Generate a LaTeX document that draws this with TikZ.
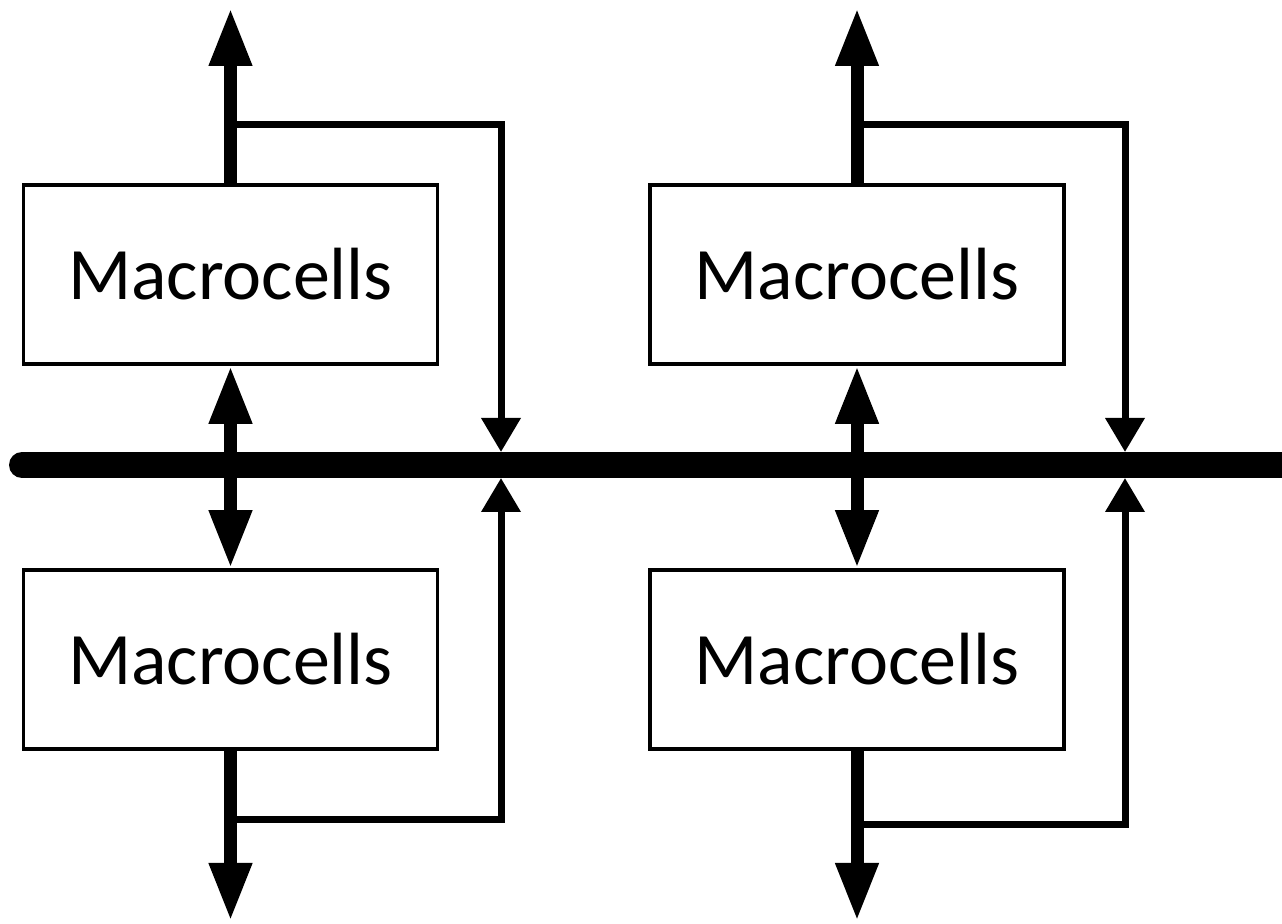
\documentclass[tikz,border=0pt]{standalone}
\usepackage{fontspec}
\setmainfont{Carlito}
\usetikzlibrary{arrows.meta}
\begin{document}
\begin{tikzpicture}[x=0.5pt,y=-0.5pt,
  cellbox/.style={draw=black,line width=1.8pt,fill=white,inner sep=0pt,
    minimum width=207pt,minimum height=89.5pt,
    font=\fontsize{37}{40}\selectfont},
  busline/.style={line width=13pt,line cap=round},
  outline/.style={line width=6.5pt,-{Triangle[length=29pt,width=20pt]}},
  duplex/.style={line width=6.5pt,{Triangle[length=29pt,width=20pt]}-{Triangle[length=29pt,width=20pt]}},
  feedback/.style={line width=3.5pt,-{Triangle[length=17pt,width=19pt]}}]
\useasboundingbox (0,0) rectangle (1282,924);
\clip (0,0) rectangle (1282,924);

% shared bus
\coordinate (busL) at (22,465);
\coordinate (busR) at (1300,465);
\draw[busline] (busL) -- (busR);

% macrocell blocks
\node[cellbox] (tl) at (230.5,274.5) {Macrocells};
\node[cellbox] (bl) at (230.5,659.5) {Macrocells};
\node[cellbox] (tr) at (857,274.5) {Macrocells};
\node[cellbox] (br) at (857,659.5) {Macrocells};

% outputs and feedback paths, left column
\coordinate (tlout) at (230.5,8);
\coordinate (tlj) at (230.5,125);
\coordinate (tlk) at (501,125);
\coordinate (tlin) at (501,452);
\draw[outline] (tl.north) -- (tlout);
\draw[feedback] (tlj) -- (tlk) -- (tlin);

\coordinate (blout) at (230.5,921);
\coordinate (blj) at (230.5,820);
\coordinate (blk) at (501,820);
\coordinate (blin) at (501,478);
\draw[outline] (bl.south) -- (blout);
\draw[feedback] (blj) -- (blk) -- (blin);

\draw[duplex] (tl.south) -- (bl.north);

% outputs and feedback paths, right column
\coordinate (trout) at (857,8);
\coordinate (trj) at (857,125);
\coordinate (trk) at (1125,125);
\coordinate (trin) at (1125,452);
\draw[outline] (tr.north) -- (trout);
\draw[feedback] (trj) -- (trk) -- (trin);

\coordinate (brout) at (857,921);
\coordinate (brj) at (857,825);
\coordinate (brk) at (1125,825);
\coordinate (brin) at (1125,478);
\draw[outline] (br.south) -- (brout);
\draw[feedback] (brj) -- (brk) -- (brin);

\draw[duplex] (tr.south) -- (br.north);
\end{tikzpicture}
\end{document}
